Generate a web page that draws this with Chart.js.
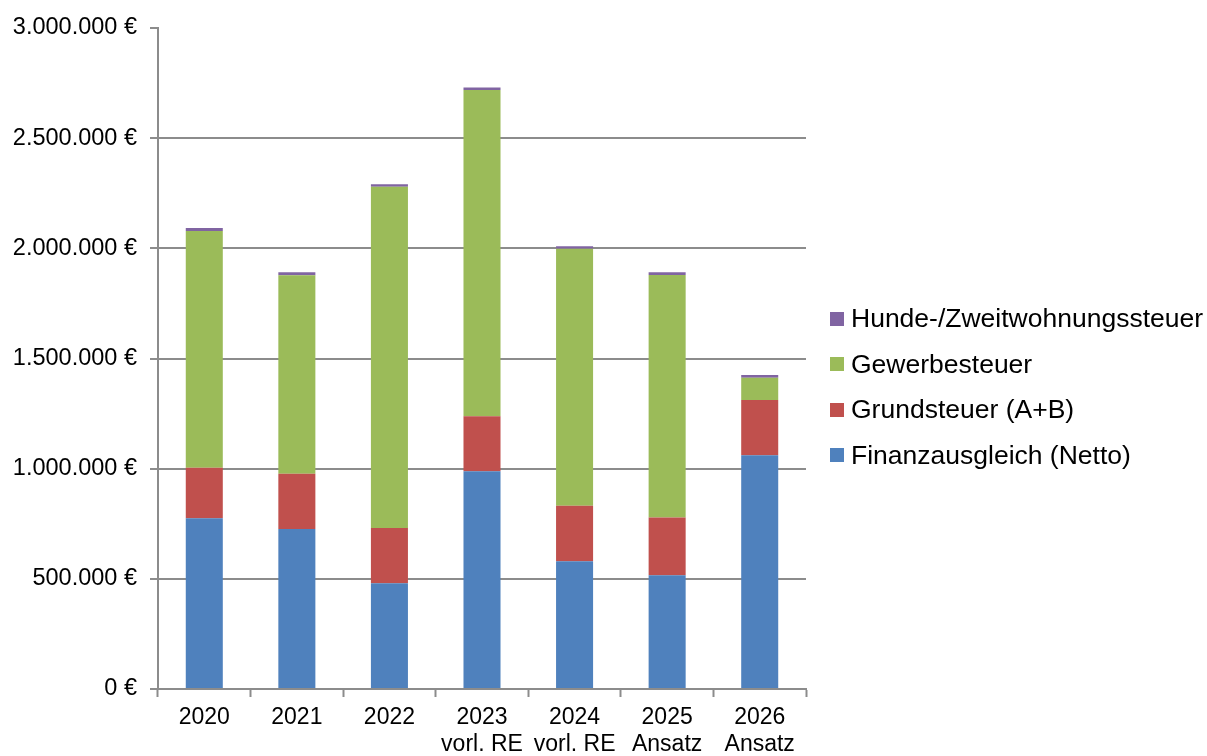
<!DOCTYPE html>
<html lang="de">
<head>
<meta charset="utf-8">
<script src="https://cdn.jsdelivr.net/npm/chart.js@4/dist/chart.umd.min.js"></script>
<style>
  html, body { margin: 0; padding: 0; background: #fff; }
  #wrap { position: relative; width: 1207px; height: 756px; overflow: hidden; }
  #legend { position: absolute; left: 830px; top: 296px; font-family: "Liberation Sans", Arial, sans-serif; font-size: 26.5px; color: #000; }
  .lg-row { display: flex; align-items: center; height: 45.5px; white-space: nowrap; }
  .lg-box { width: 14px; height: 14px; margin-right: 7px; flex: none; }
</style>
</head>
<body>
<div id="wrap">
  <canvas id="cv" width="1207" height="756"></canvas>
  <div id="legend"></div>
</div>
<script>
// Daten
const jahre = [['2020'], ['2021'], ['2022'], ['2023', 'vorl. RE'], ['2024', 'vorl. RE'], ['2025', 'Ansatz'], ['2026', 'Ansatz']];
const finanzausgleich = [775000, 726000, 480000, 988000, 580000, 516000, 1061000];
const grundsteuer     = [229000, 251000, 251000, 250000, 252000, 262000, 251000];
const gewerbesteuer   = [1075000, 901000, 1548000, 1481000, 1166000, 1101000, 101000];
const hundesteuer     = [13000, 13000, 12000, 11000, 12000, 13000, 12000];
const yTicks = [0, 500000, 1000000, 1500000, 2000000, 2500000, 3000000];

const GRAU = '#8c8c8c';
const FONT = '"Liberation Sans", Arial, sans-serif';

function euro(v) {
  return String(v).replace(/\B(?=(\d{3})+(?!\d))/g, '.') + ' €';
}

const datasets = [
  { label: 'Finanzausgleich (Netto)', data: finanzausgleich, backgroundColor: '#4f81bd' },
  { label: 'Grundsteuer (A+B)', data: grundsteuer, backgroundColor: '#c0504d' },
  { label: 'Gewerbesteuer', data: gewerbesteuer, backgroundColor: '#9bbb59' },
  { label: 'Hunde-/Zweitwohnungssteuer', data: hundesteuer, backgroundColor: '#8064a2' }
].map(d => Object.assign(d, { barPercentage: 0.4, categoryPercentage: 1, borderWidth: 0 }));

const chart = new Chart(document.getElementById('cv'), {
  type: 'bar',
  data: { labels: jahre, datasets },
  options: {
    responsive: false,
    animation: false,
    devicePixelRatio: 1,
    layout: { padding: { top: 28, right: 401, left: 0, bottom: 0 } },
    plugins: { legend: { display: false }, tooltip: { enabled: false } },
    scales: {
      x: {
        stacked: true,
        afterFit: s => { s.height = 67; },
        grid: { offset: true, drawOnChartArea: false, tickLength: 8, tickColor: GRAU, tickWidth: 2 },
        border: { color: GRAU, width: 2 },
        ticks: { color: '#000', font: { family: FONT, size: 23, lineHeight: 1.18 }, padding: 7, maxRotation: 0 }
      },
      y: {
        stacked: true,
        min: 0,
        max: 3000000,
        afterFit: s => { s.width = 158; },
        afterBuildTicks: s => { s.ticks = yTicks.map(v => ({ value: v })); },
        grid: {
          color: c => (c.tick && c.tick.value === 3000000) ? 'rgba(0,0,0,0)' : GRAU,
          lineWidth: 2, tickLength: 8, tickColor: GRAU, tickWidth: 2
        },
        border: { color: GRAU, width: 2 },
        ticks: { color: '#000', font: { family: FONT, size: 23.5 }, padding: 13, callback: v => euro(v) }
      }
    }
  }
});

// Legende (umgekehrte Reihenfolge wie im Original)
const lg = document.getElementById('legend');
chart.data.datasets.slice().reverse().forEach(d => {
  const row = document.createElement('div');
  row.className = 'lg-row';
  row.innerHTML = `<div class="lg-box" style="background:${d.backgroundColor}"></div><span>${d.label}</span>`;
  lg.appendChild(row);
});
</script>
</body>
</html>
